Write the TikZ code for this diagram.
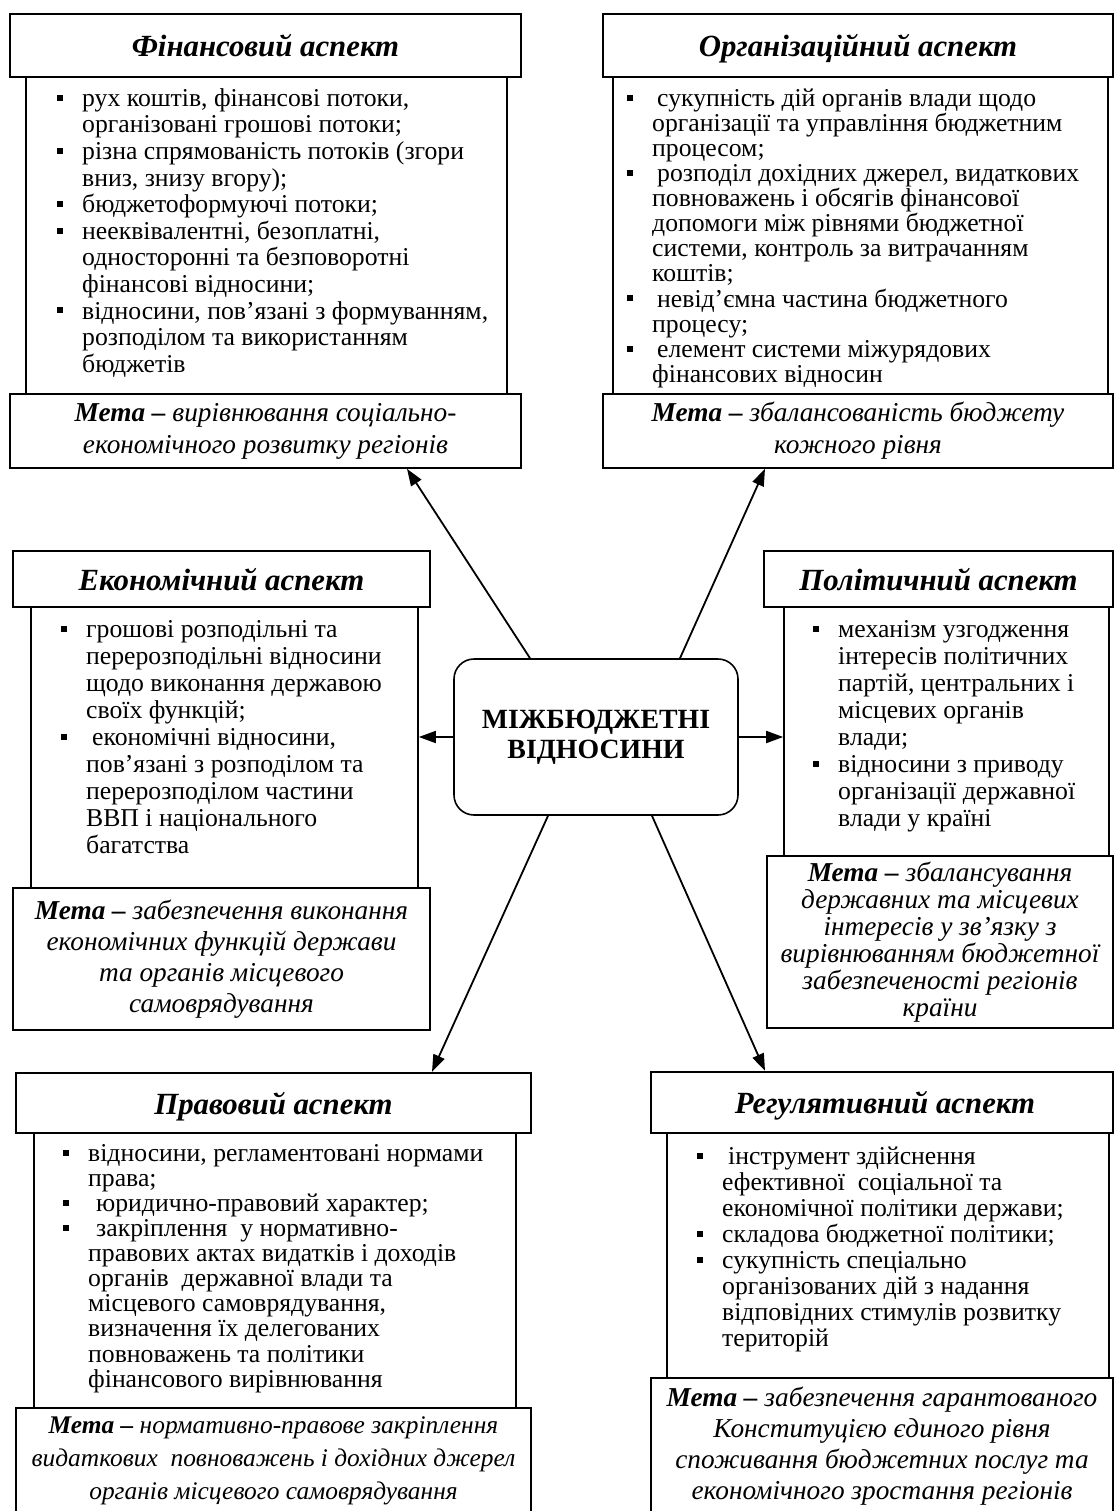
\documentclass[tikz,border=0pt]{standalone}
\usepackage{fontspec}
\setmainfont{Liberation Serif}
\usetikzlibrary{arrows.meta}
\newcommand\fl{\rule{0pt}{18pt}}
\newcommand\bul{\llap{\rule[0.22em]{6pt}{6pt}\hspace{19pt}}}
\newcommand\mt{\textbf{Мета –} }
\begin{document}
\begin{tikzpicture}[x=1pt,y=-1pt,
  tbox/.style={draw, line width=2.4pt, fill=white, inner sep=0pt, text height=24pt, text depth=2pt, font=\fontsize{30.8}{32}\selectfont\bfseries\itshape},
  bbox/.style={draw, line width=1.6pt, inner sep=0pt},
  mbox/.style={draw, line width=1.6pt, fill=white, inner sep=0pt, align=center},
  mfont/.style={font=\fontsize{27.3}{#1}\selectfont\itshape},
  btext/.style={inner sep=0pt, anchor=north west, align=left, font=\fontsize{25.7}{#1}\selectfont},
  cbox/.style={draw, rounded corners=20pt, line width=1.6pt, fill=white, inner sep=0pt, align=center, font=\fontsize{27.8}{30}\selectfont\bfseries},
  arr/.style={line width=1.8pt, -{Triangle[length=17pt,width=12pt]}}]
\useasboundingbox (0,0) rectangle (1114,1511);
\fill[white] (0,0) rectangle (1114,1511);

% ---------- Financial ----------
\node[bbox, minimum width=481pt, minimum height=317pt] (finb) at (266.5,235.5) {};
\node[tbox, minimum width=511pt, minimum height=63pt] (fint) at (265.5,45.5) {Фінансовий аспект};
\node[mbox, mfont=32, minimum width=511pt, minimum height=74pt] (finm) at (265.5,431) {\mt вирівнювання соціально-\\економічного розвитку регіонів};
\node[btext=26.6] (fintx) at (82,88) {\fl\bul рух коштів, фінансові потоки,\\
організовані грошові потоки;\\
\bul різна спрямованість потоків (згори\\
вниз, знизу вгору);\\
\bul бюджетоформуючі потоки;\\
\bul нееквівалентні, безоплатні,\\
односторонні та безповоротні\\
фінансові відносини;\\
\bul відносини, пов’язані з формуванням,\\
розподілом та використанням\\
бюджетів};

% ---------- Organisational ----------
\node[bbox, minimum width=495pt, minimum height=317pt] (orgb) at (860.5,235.5) {};
\node[tbox, minimum width=510pt, minimum height=63pt] (orgt) at (858,45.5) {Організаційний аспект};
\node[mbox, mfont=32, minimum width=510pt, minimum height=74pt] (orgm) at (858,431) {\mt збалансованість бюджету\\кожного рівня};
\node[btext=25.1] (orgtx) at (652,88) {\fl\bul\hspace{5pt}сукупність дій органів влади щодо\\
організації та управління бюджетним\\
процесом;\\
\bul\hspace{5pt}розподіл дохідних джерел, видаткових\\
повноважень і обсягів фінансової\\
допомоги між рівнями бюджетної\\
системи, контроль за витрачанням\\
коштів;\\
\bul\hspace{5pt}невід’ємна частина бюджетного\\
процесу;\\
\bul\hspace{5pt}елемент системи міжурядових\\
фінансових відносин};

% ---------- Economic ----------
\node[bbox, minimum width=387pt, minimum height=281pt] (ekb) at (224.5,747.5) {};
\node[tbox, minimum width=417pt, minimum height=56pt] (ekt) at (221.5,579) {Економічний аспект};
\node[mbox, mfont=31, minimum width=417pt, minimum height=142pt] (ekm) at (221.5,959) {\mt забезпечення виконання\\економічних функцій держави\\та органів місцевого\\самоврядування};
\node[btext=27] (ektx) at (86,619) {\fl\bul грошові розподільні та\\
перерозподільні відносини\\
щодо виконання державою\\
своїх функцій;\\
\bul\hspace{6pt}економічні відносини,\\
пов’язані з розподілом та\\
перерозподілом частини\\
ВВП і національного\\
багатства};

% ---------- Political ----------
\node[bbox, minimum width=325pt, minimum height=249pt] (polb) at (946.5,731.5) {};
\node[tbox, minimum width=349pt, minimum height=56pt] (polt) at (938.5,579) {Політичний аспект};
\node[mbox, mfont=27, minimum width=346pt, minimum height=172pt] (polm) at (940,942) {\mt збалансування\\державних та місцевих\\інтересів у зв'язку з\\вирівнюванням бюджетної\\забезпеченості регіонів\\країни};
\node[btext=27] (poltx) at (838,619) {\fl\bul механізм узгодження\\
інтересів політичних\\
партій, центральних і\\
місцевих органів\\
влади;\\
\bul відносини з приводу\\
організації державної\\
влади у країні};

% ---------- Centre ----------
\node[cbox, minimum width=284pt, minimum height=156pt] (c) at (596,737) {МІЖБЮДЖЕТНІ\\ВІДНОСИНИ};

% ---------- Legal ----------
\node[bbox, minimum width=482pt, minimum height=275pt] (pravb) at (275,1270.5) {};
\node[tbox, minimum width=515pt, minimum height=60pt] (pravt) at (273.5,1103) {Правовий аспект};
\node[mbox, font=\fontsize{25.4}{33}\selectfont\itshape, minimum width=515pt, minimum height=105pt] (pravm) at (273.5,1460.5) {\mt нормативно-правове закріплення\\видаткових\ \ повноважень і дохідних джерел\\органів місцевого самоврядування};
\node[btext=25.1] (pravtx) at (88,1143) {\fl\bul відносини, регламентовані нормами\\
права;\\
\bul\hspace{8pt}юридично-правовий характер;\\
\bul\hspace{8pt}закріплення\ \ у нормативно-\\
правових актах видатків і доходів\\
органів\ \ державної влади та\\
місцевого самоврядування,\\
визначення їх делегованих\\
повноважень та політики\\
фінансового вирівнювання};

% ---------- Regulatory ----------
\node[bbox, minimum width=442pt, minimum height=245pt] (regb) at (888,1255.5) {};
\node[tbox, minimum width=462pt, minimum height=61pt] (regt) at (882,1102.5) {\hspace{6pt}Регулятивний аспект};
\node[mbox, mfont=31, minimum width=462pt, minimum height=137pt] (regm) at (882,1446.5) {\mt забезпечення гарантованого\\Конституцією єдиного рівня\\споживання бюджетних послуг та\\економічного зростання регіонів};
\node[btext=26] (regtx) at (722,1146) {\fl\bul\hspace{6pt}інструмент здійснення\\
ефективної\ \ соціальної та\\
економічної політики держави;\\
\bul складова бюджетної політики;\\
\bul сукупність спеціально\\
організованих дій з надання\\
відповідних стимулів розвитку\\
територій};

% ---------- Connectors ----------
\draw[arr] ([xshift=-66pt]c.north) -- ([xshift=141.5pt]finm.south);
\draw[arr] ([xshift=84pt]c.north) -- ([xshift=-93pt]orgm.south);
\draw[arr] (c.west) -- (c.west -| ekb.east);
\draw[arr] (c.east) -- (c.east -| polb.west);
\draw[arr] ([xshift=-48pt]c.south) -- ([xshift=158.5pt]pravt.north);
\draw[arr] ([xshift=56pt]c.south) -- ([xshift=-117pt]regt.north);
\end{tikzpicture}
\end{document}
